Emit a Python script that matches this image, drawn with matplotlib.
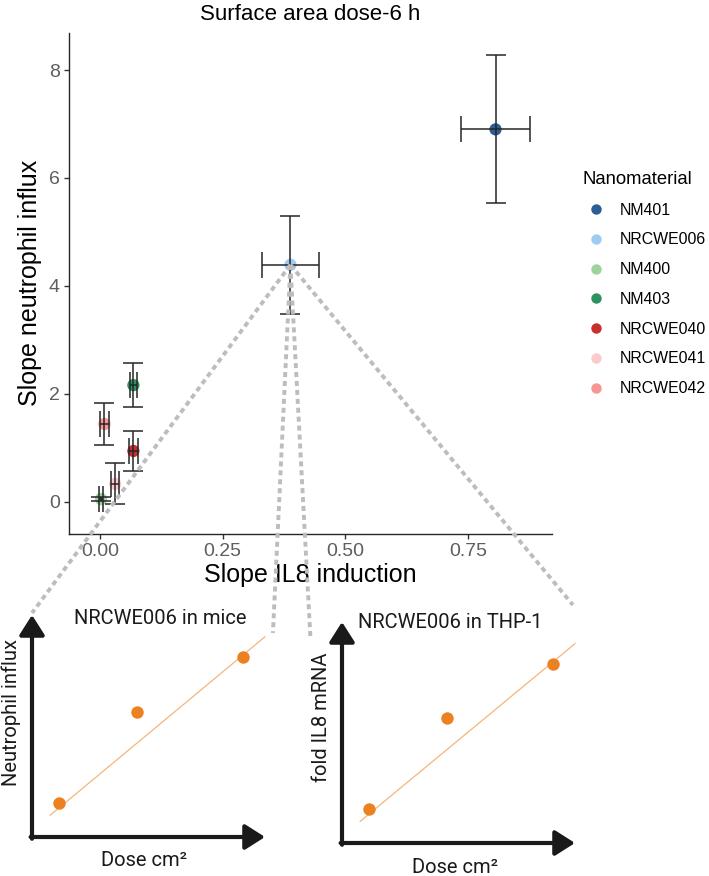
import matplotlib
matplotlib.use("Agg")
import matplotlib.pyplot as plt
from matplotlib.lines import Line2D

# ---------------- data ----------------
materials = ["NM401", "NRCWE006", "NM400", "NM403", "NRCWE040", "NRCWE041", "NRCWE042"]
slope_il8 = [0.806, 0.388, 0.002, 0.068, 0.068, 0.031, 0.009]
slope_il8_err = [0.070, 0.058, 0.0045, 0.0075, 0.009, 0.008, 0.0095]
slope_neut = [6.90, 4.39, 0.05, 2.16, 0.94, 0.33, 1.44]
slope_neut_err = [1.37, 0.91, 0.03, 0.41, 0.37, 0.38, 0.385]
colors = ["#2C5D94", "#9ECBF4", "#9CD39A", "#2E9160", "#C8302E", "#FBCACD", "#F89696"]

xticks = [0.0, 0.25, 0.50, 0.75]
xtick_labels = ["0.00", "0.25", "0.50", "0.75"]
yticks = [0, 2, 4, 6, 8]

# inset schematic data (relative units)
inset_dose = [0.114, 0.451, 0.906]
mice_neutrophil = [0.153, 0.564, 0.812]
thp1_il8 = [0.153, 0.564, 0.812]
trend_dose = [0.078, 1.0]
trend_mice = [0.098, 0.902]
trend_thp1 = [0.098, 0.902]

W, H = 709, 876
fig = plt.figure(figsize=(W / 100, H / 100), dpi=100)
plt.rcParams["font.family"] = ["Liberation Sans", "DejaVu Sans"]

def fx(px):
    return px / W

def fy(py):
    return 1 - py / H

# ---------------- main plot ----------------
L, R, T, B = 69.3, 551.7, 33, 533.5
ax = fig.add_axes([fx(L), fy(B), fx(R - L), (B - T) / H])
ax.set_xlim(-0.0626, 0.9205)
ax.set_ylim(-0.589, 8.686)

ax.scatter(slope_il8, slope_neut, s=78, c=colors, zorder=2, linewidths=0)
ecol = "#262626"
ax.errorbar(slope_il8, slope_neut, yerr=slope_neut_err, fmt="none", ecolor=ecol,
            elinewidth=1.1, capsize=7.0, capthick=1.1, zorder=3)
ax.errorbar(slope_il8, slope_neut, xerr=slope_il8_err, fmt="none", ecolor=ecol,
            elinewidth=1.1, capsize=9.4, capthick=1.1, zorder=3)

for s in ["top", "right"]:
    ax.spines[s].set_visible(False)
for s in ["left", "bottom"]:
    ax.spines[s].set_color("#262626")
    ax.spines[s].set_linewidth(1.0)
ax.set_xticks(xticks)
ax.set_xticklabels(xtick_labels)
ax.set_yticks(yticks)
ax.tick_params(axis="both", colors="#333333", labelcolor="#5E5E5E", labelsize=14,
               length=3.8, width=1.0, pad=3)
ax.set_xlabel("Slope IL8 induction", fontsize=18, labelpad=2)
ax.set_ylabel("Slope neutrophil influx", fontsize=18, labelpad=5)

fig.text(fx(310), fy(15), "Surface area dose-6 h", fontsize=16, ha="center", va="center")

handles = [Line2D([], [], marker="o", linestyle="none", markersize=7.5,
                  markerfacecolor=c, markeredgewidth=0) for c in colors]
leg = fig.legend(handles, materials, title="Nanomaterial", loc="upper left",
                 bbox_to_anchor=(fx(583), fy(171)), frameon=False, fontsize=11.4,
                 title_fontsize=13.3, labelspacing=0.93, handlelength=1.6,
                 handletextpad=0.7, borderpad=0, borderaxespad=0)
leg._legend_box.align = "left"

# ---------------- insets ----------------
def make_inset(x0, x1, ytip, ycorner, dose, resp, tdose, tresp, title, ylab, tpos, ylpos, xlpos):
    iax = fig.add_axes([fx(x0), fy(ycorner), fx(x1 - x0), (ycorner - ytip) / H])
    iax.set_xlim(0, 1)
    iax.set_ylim(0, 1)
    iax.axis("off")
    iax.patch.set_alpha(0)
    iax.plot(tdose, tresp, color="#F6B57A", lw=0.9, zorder=1, clip_on=False)
    iax.scatter(dose, resp, s=80, color="#EC8121", zorder=2, linewidths=0, clip_on=False)
    ap = dict(arrowstyle="-|>,head_length=0.55,head_width=0.35", lw=3.0, color="#1A1A1A",
              shrinkA=0, shrinkB=0, mutation_scale=22)
    iax.annotate("", xy=(0, 1), xytext=(0, -0.008), xycoords="axes fraction",
                 textcoords="axes fraction", arrowprops=ap)
    iax.annotate("", xy=(1, 0), xytext=(-0.006, 0), xycoords="axes fraction",
                 textcoords="axes fraction", arrowprops=ap)
    iax.text(tpos[0], tpos[1], title, transform=iax.transAxes, ha="center", va="center",
             fontsize=14.5, family=["Roboto", "DejaVu Sans"], color="#1A1A1A")
    iax.text(ylpos[0], ylpos[1], ylab, transform=iax.transAxes, ha="center", va="center",
             rotation=90, fontsize=14.5, family=["Roboto", "DejaVu Sans"], color="#1A1A1A")
    iax.text(xlpos[0], xlpos[1], "Dose cm²", transform=iax.transAxes, ha="center",
             va="center", fontsize=14.5, family=["Roboto", "DejaVu Sans"], color="#1A1A1A")
    return iax

left_ax = make_inset(32, 265, 615, 837, inset_dose, mice_neutrophil, trend_dose, trend_mice,
                     "NRCWE006 in mice", "Neutrophil influx",
                     (0.549, 0.986), (-0.09, 0.563), (0.48, -0.104))
right_ax = make_inset(342, 575, 622, 843, inset_dose, thp1_il8, trend_dose, trend_thp1,
                      "NRCWE006 in THP-1", "fold IL8 mRNA",
                      (0.464, 1.0), (-0.086, 0.57), (0.485, -0.109))

# dashed connectors from NRCWE006 point to insets
inv = fig.transFigure.inverted()
p0 = inv.transform(ax.transData.transform((slope_il8[1], slope_neut[1])))
targets = [(left_ax, (0.0, 1.009)), (left_ax, (1.034, 0.919)),
           (right_ax, (-0.135, 0.919)), (right_ax, (0.991, 1.077))]
for tax, tgt in targets:
    p1 = inv.transform(tax.transAxes.transform(tgt))
    ln = Line2D([p0[0], p1[0]], [p0[1], p1[1]], transform=fig.transFigure,
                color="#BDBDBD", lw=2.8, dashes=(1.3, 1.0), solid_capstyle="butt",
                dash_capstyle="butt", zorder=5)
    fig.add_artist(ln)

fig.savefig("out.png", dpi=100)
